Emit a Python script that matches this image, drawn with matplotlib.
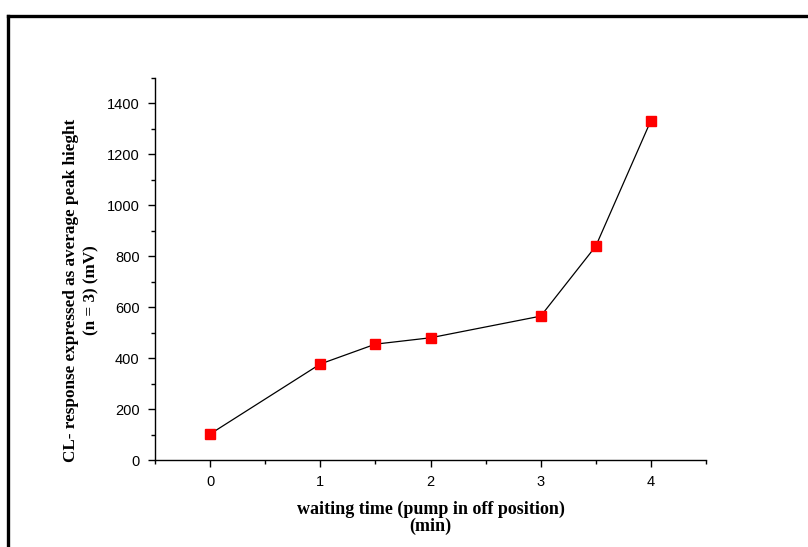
import matplotlib
matplotlib.use('Agg')
import matplotlib.pyplot as plt
from matplotlib.lines import Line2D
from matplotlib.ticker import MultipleLocator

# waiting time (min) vs CL response (mV)
wait_time = [0, 1, 1.5, 2, 3, 3.5, 4]
cl_response = [102, 377, 455, 480, 565, 840, 1333]

x_ticks = [0, 1, 2, 3, 4]
y_ticks = [0, 200, 400, 600, 800, 1000, 1200, 1400]

fig = plt.figure(figsize=(8.08, 5.47), dpi=100)
ax = fig.add_axes([0.1918, 0.159, 0.682, 0.6984])

ax.plot(wait_time, cl_response, color='black', linewidth=0.9,
        marker='s', markersize=6.5, markerfacecolor='red',
        markeredgecolor='red', zorder=3)

ax.set_xlim(-0.5, 4.5)
ax.set_ylim(0, 1500)
ax.set_xticks(x_ticks)
ax.set_yticks(y_ticks)
ax.xaxis.set_minor_locator(MultipleLocator(0.5))
ax.yaxis.set_minor_locator(MultipleLocator(100))

for side in ['top', 'right']:
    ax.spines[side].set_visible(False)
for side in ['left', 'bottom']:
    ax.spines[side].set_linewidth(1.0)

ax.tick_params(which='major', direction='out', length=5, width=1.0,
               labelsize=10.5, pad=6)
ax.tick_params(which='minor', direction='out', length=3, width=1.0)
for lab in ax.get_xticklabels() + ax.get_yticklabels():
    lab.set_fontfamily('Liberation Sans')

ax.set_xlabel('waiting time (pump in off position)\n(min)',
              fontfamily='Liberation Serif', fontweight='bold', fontsize=13,
              linespacing=1.0, labelpad=8)
ax.set_ylabel('CL- response expressed as average peak hieght\n(n = 3) (mV)',
              fontfamily='Liberation Serif', fontweight='bold', fontsize=12.3,
              linespacing=1.4)
ax.yaxis.set_label_coords(-0.1, 0.445)

# black frame around the figure (top and left edges visible)
fig.add_artist(Line2D([7.5 / 808, 1.0], [1 - 15.5 / 547, 1 - 15.5 / 547],
                      color='black', linewidth=2.4, transform=fig.transFigure))
fig.add_artist(Line2D([7.5 / 808, 7.5 / 808], [0.0, 1 - 15.5 / 547],
                      color='black', linewidth=2.4, transform=fig.transFigure))

fig.savefig('out.png', dpi=100)
